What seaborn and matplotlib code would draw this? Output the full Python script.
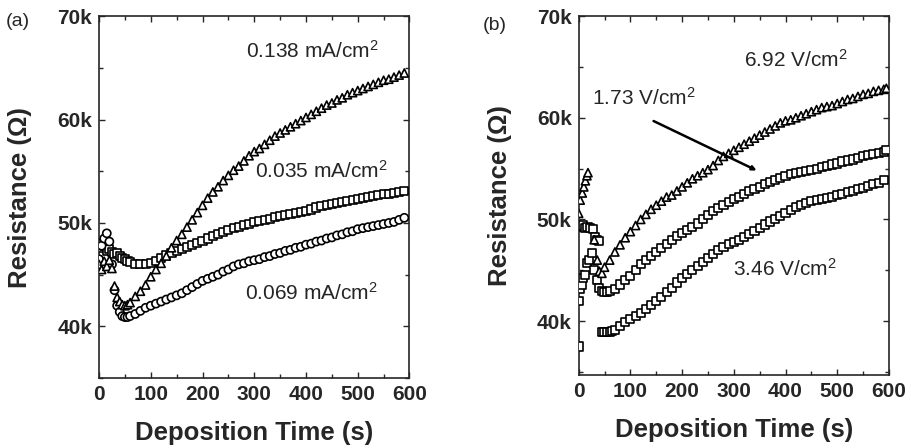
import numpy as np
import pandas as pd
import matplotlib
matplotlib.use('Agg')
import matplotlib.pyplot as plt
import seaborn as sns
from matplotlib.ticker import MultipleLocator, FuncFormatter

sns.set_style('ticks')
plt.rcParams.update({
    'font.family': ['Liberation Sans', 'DejaVu Sans'],
    'mathtext.fontset': 'custom',
    'mathtext.rm': 'Liberation Sans',
    'mathtext.default': 'regular',
    'axes.linewidth': 1.2,
})

# ---- panel (a): constant current density ----
t_a138 = [0, 5, 10, 15, 20, 25, 30, 35, 40, 45, 50, 55, 60, 70, 80, 90, 100, 110, 120, 130,
          140, 150, 160, 170, 180, 190, 200, 210, 220, 230, 240, 250, 260, 270, 280, 290, 300,
          310, 320, 330, 340, 350, 360, 370, 380, 390, 400, 410, 420, 430, 440, 450, 460, 470,
          480, 490, 500, 510, 520, 530, 540, 550, 560, 570, 580, 590]
r_a138 = [46.0, 45.5, 46.3, 45.8, 46.4, 45.6, 43.9, 42.8, 42.4, 42.1, 42.0, 42.1, 42.3, 42.9,
          43.4, 44.0, 44.8, 45.5, 46.1, 46.8, 47.6, 48.3, 48.9, 49.6, 50.3, 51.0, 51.7, 52.4,
          53.0, 53.5, 54.1, 54.6, 55.1, 55.5, 56.0, 56.5, 56.9, 57.2, 57.6, 58.0, 58.4, 58.7,
          59.0, 59.3, 59.6, 59.9, 60.2, 60.5, 60.8, 61.1, 61.4, 61.6, 61.9, 62.1, 62.4, 62.6,
          62.8, 63.0, 63.2, 63.4, 63.6, 63.8, 63.9, 64.1, 64.3, 64.5]

t_a035 = [0, 5, 10, 15, 20, 25, 30, 35, 40, 45, 50, 55, 60, 70, 80, 90, 100, 110, 120, 130,
          140, 150, 160, 170, 180, 190, 200, 210, 220, 230, 240, 250, 260, 270, 280, 290, 300,
          310, 320, 330, 340, 350, 360, 370, 380, 390, 400, 410, 420, 430, 440, 450, 460, 470,
          480, 490, 500, 510, 520, 530, 540, 550, 560, 570, 580, 590]
r_a035 = [48.0, 47.6, 47.8, 47.3, 47.5, 47.2, 47.0, 47.1, 46.8, 46.6, 46.5, 46.3, 46.2, 46.0,
          46.0, 46.0, 46.1, 46.3, 46.6, 46.9, 47.1, 47.3, 47.5, 47.7, 47.9, 48.1, 48.3, 48.5,
          48.7, 48.9, 49.1, 49.3, 49.5, 49.6, 49.8, 49.9, 50.1, 50.2, 50.3, 50.4, 50.6, 50.7,
          50.8, 50.9, 51.0, 51.1, 51.2, 51.3, 51.5, 51.6, 51.7, 51.8, 51.9, 52.0, 52.1, 52.2,
          52.3, 52.4, 52.5, 52.6, 52.7, 52.8, 52.8, 52.9, 53.0, 53.1]

t_a069 = [0, 5, 10, 15, 20, 25, 30, 35, 40, 45, 50, 55, 60, 70, 80, 90, 100, 110, 120, 130,
          140, 150, 160, 170, 180, 190, 200, 210, 220, 230, 240, 250, 260, 270, 280, 290, 300,
          310, 320, 330, 340, 350, 360, 370, 380, 390, 400, 410, 420, 430, 440, 450, 460, 470,
          480, 490, 500, 510, 520, 530, 540, 550, 560, 570, 580, 590]
r_a069 = [46.5, 47.8, 48.5, 49.0, 48.2, 46.0, 43.5, 42.0, 41.4, 41.0, 40.9, 40.9, 41.0, 41.2,
          41.5, 41.8, 42.0, 42.2, 42.4, 42.6, 42.8, 43.0, 43.2, 43.5, 43.8, 44.1, 44.4, 44.6,
          44.8, 45.0, 45.3, 45.5, 45.8, 46.0, 46.1, 46.3, 46.4, 46.5, 46.7, 46.8, 47.0, 47.1,
          47.3, 47.4, 47.6, 47.7, 47.9, 48.0, 48.2, 48.3, 48.5, 48.6, 48.8, 48.9, 49.1, 49.2,
          49.4, 49.5, 49.6, 49.7, 49.8, 49.9, 50.0, 50.1, 50.3, 50.5]

# ---- panel (b): constant field ----
t_b692 = [0, 3, 7, 10, 13, 16, 18, 30, 36, 40, 45, 50, 60, 70, 80, 90, 100, 110, 120, 130,
          140, 150, 160, 170, 180, 190, 200, 210, 220, 230, 240, 250, 260, 270, 280, 290, 300,
          310, 320, 330, 340, 350, 360, 370, 380, 390, 400, 410, 420, 430, 440, 450, 460, 470,
          480, 490, 500, 510, 520, 530, 540, 550, 560, 570, 580, 590, 595]
r_b692 = [50.6, 51.9, 52.6, 53.2, 53.8, 54.3, 54.6, 48.0, 46.0, 44.9, 44.7, 45.3, 46.0, 46.8,
          47.5, 48.2, 48.8, 49.4, 50.0, 50.5, 51.0, 51.4, 51.8, 52.2, 52.4, 52.8, 53.2, 53.6,
          54.0, 54.3, 54.6, 54.9, 55.3, 55.8, 56.2, 56.5, 56.8, 57.1, 57.4, 57.7, 58.0, 58.3,
          58.6, 58.9, 59.2, 59.5, 59.7, 59.8, 60.0, 60.2, 60.4, 60.6, 60.8, 61.0, 61.1, 61.2,
          61.4, 61.6, 61.8, 61.9, 62.1, 62.3, 62.4, 62.6, 62.7, 62.8, 62.9]

t_b173 = [0, 3, 6, 9, 13, 16, 20, 26, 30, 35, 40, 45, 50, 55, 60, 70, 80, 90, 100, 110, 120,
          130, 140, 150, 160, 170, 180, 190, 200, 210, 220, 230, 240, 250, 260, 270, 280, 290,
          300, 310, 320, 330, 340, 350, 360, 370, 380, 390, 400, 410, 420, 430, 440, 450, 460,
          470, 480, 490, 500, 510, 520, 530, 540, 550, 560, 570, 580, 590, 595]
r_b173 = [42.0, 43.2, 43.6, 44.2, 44.5, 45.7, 46.0, 46.7, 45.0, 44.0, 43.3, 43.0, 42.9, 42.9,
          43.0, 43.2, 43.6, 44.0, 44.4, 45.0, 45.6, 46.0, 46.4, 46.8, 47.2, 47.6, 48.0, 48.4,
          48.7, 49.0, 49.3, 49.6, 50.0, 50.4, 50.8, 51.1, 51.4, 51.7, 52.0, 52.2, 52.5, 52.8,
          53.0, 53.2, 53.5, 53.7, 53.9, 54.1, 54.3, 54.5, 54.6, 54.7, 54.8, 54.9, 55.0, 55.2,
          55.3, 55.4, 55.5, 55.7, 55.8, 55.9, 56.0, 56.2, 56.3, 56.4, 56.5, 56.6, 56.8]

t_b346 = [0, 3, 8, 12, 17, 22, 27, 32, 36, 40, 45, 50, 55, 60, 65, 70, 80, 90, 100, 110, 120,
          130, 140, 150, 160, 170, 180, 190, 200, 210, 220, 230, 240, 250, 260, 270, 280, 290,
          300, 310, 320, 330, 340, 350, 360, 370, 380, 390, 400, 410, 420, 430, 440, 450, 460,
          470, 480, 490, 500, 510, 520, 530, 540, 550, 560, 570, 580, 590]
r_b346 = [37.5, 49.3, 49.4, 49.2, 49.3, 49.2, 49.1, 48.3, 48.0, 47.9, 38.9, 38.9, 38.9, 38.9,
          39.0, 39.1, 39.5, 39.9, 40.2, 40.5, 40.8, 41.2, 41.6, 42.0, 42.4, 42.9, 43.3, 43.8,
          44.2, 44.6, 45.0, 45.4, 45.8, 46.2, 46.6, 47.0, 47.3, 47.6, 47.8, 48.0, 48.3, 48.6,
          48.9, 49.2, 49.5, 49.8, 50.0, 50.3, 50.6, 50.9, 51.2, 51.4, 51.6, 51.8, 51.9, 52.0,
          52.1, 52.2, 52.4, 52.5, 52.7, 52.8, 53.0, 53.1, 53.3, 53.5, 53.6, 53.9]


def make_df(t, r, name):
    return pd.DataFrame({'t': t, 'R': np.array(r) * 1000, 'series': name})


df_a = pd.concat([make_df(t_a035, r_a035, 'sq'), make_df(t_a069, r_a069, 'ci'),
                  make_df(t_a138, r_a138, 'tr')])
df_b = pd.concat([make_df(t_b346, r_b346, 'sq2'), make_df(t_b173, r_b173, 'sq'),
                  make_df(t_b692, r_b692, 'tr')])
markers = {'sq': 's', 'sq2': 's', 'ci': 'o', 'tr': '^'}

fig = plt.figure(figsize=(9.11, 4.48), dpi=100)
ax1 = fig.add_axes([0.1087, 0.156, 0.3408, 0.808])
ax2 = fig.add_axes([0.6352, 0.163, 0.3406, 0.801])

for ax, df, ylo in [(ax1, df_a, 35000), (ax2, df_b, 34700)]:
    sns.scatterplot(data=df, x='t', y='R', style='series', markers=markers, ax=ax,
                    color='white', edgecolor='black', linewidth=1.2, s=34,
                    legend=False, zorder=3)
    ax.set_xlim(0, 600)
    ax.set_ylim(ylo, 70000)
    ax.xaxis.set_major_locator(MultipleLocator(100))
    ax.xaxis.set_minor_locator(MultipleLocator(50))
    ax.yaxis.set_major_locator(MultipleLocator(10000))
    ax.yaxis.set_minor_locator(MultipleLocator(5000))
    ax.yaxis.set_major_formatter(FuncFormatter(lambda v, p: f"{int(round(v / 1000))}k"))
    ax.tick_params(which='both', direction='in', top=True, right=True, width=1.0)
    ax.tick_params(which='major', length=4.5, labelsize=15, pad=5)
    ax.tick_params(which='minor', length=3)
    for lab in ax.get_xticklabels() + ax.get_yticklabels():
        lab.set_fontweight('bold')
    ax.set_xlabel('Deposition Time (s)', fontsize=18.5, fontweight='bold', labelpad=12)
    ax.set_ylabel('Resistance (Ω)', fontsize=18.5, fontweight='bold', labelpad=18)
    for sp in ax.spines.values():
        sp.set_visible(True)
        sp.set_linewidth(1.2)

# series labels
ax1.text(285, 66000, '0.138 mA/cm$^2$', fontsize=15, va='baseline')
ax1.text(301, 54400, '0.035 mA/cm$^2$', fontsize=15, va='baseline')
ax1.text(282, 42560, '0.069 mA/cm$^2$', fontsize=15, va='baseline')

ax2.text(320, 65050, '6.92 V/cm$^2$', fontsize=15, va='baseline')
ax2.text(25, 61300, '1.73 V/cm$^2$', fontsize=15, va='baseline')
ax2.text(299, 44500, '3.46 V/cm$^2$', fontsize=15, va='baseline')
ax2.annotate('', xy=(349, 54700), xytext=(140, 59800),
             arrowprops=dict(arrowstyle='-|>', lw=1.8, color='black', mutation_scale=6))

fig.text(0.006, 0.953, '(a)', fontsize=14, va='center')
fig.text(0.530, 0.944, '(b)', fontsize=14, va='center')

fig.savefig('out.png', dpi=100)
